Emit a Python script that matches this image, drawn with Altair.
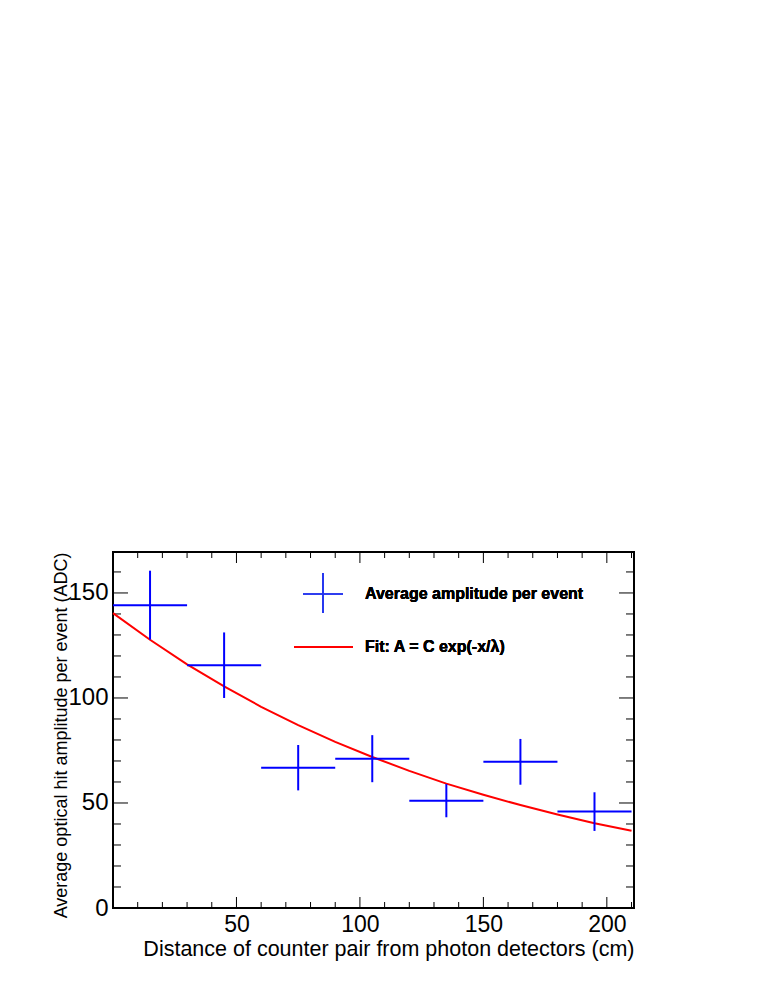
import altair as alt
import pandas as pd

# ---- data ----
bin_lo = [0, 30, 60, 90, 120, 150, 180]
bin_hi = [30, 60, 90, 120, 150, 180, 210]
bin_center = [15, 45, 75, 105, 135, 165, 195]
amp = [144.2, 115.6, 66.8, 71.1, 51.1, 69.6, 45.9]
amp_err = [16.4, 15.6, 10.8, 11.2, 7.9, 10.9, 9.2]

fit_x = [0, 15, 30, 45, 60, 75, 90, 105, 120, 135, 150, 165, 180, 195, 210]
fit_y = [140.4, 127.7, 116.0, 105.5, 95.8, 87.1, 79.1, 71.9, 65.3, 59.2, 53.9, 49.0, 44.5, 40.4, 36.8]

x_major = [50, 100, 150, 200]
x_minor = [10, 20, 30, 40, 60, 70, 80, 90, 110, 120, 130, 140, 160, 170, 180, 190, 210]
y_major = [0, 50, 100, 150]
y_minor = [10, 20, 30, 40, 60, 70, 80, 90, 110, 120, 130, 140, 160]

legend_labels = ["Average amplitude per event", "Fit: A = C exp(-x/\u03bb)"]

# ---- layout constants ----
W, H = 521, 356
FONT = "Liberation Sans"
BLUE = "#0000ff"
RED = "#ff0000"

pts = pd.DataFrame({
    "lo": bin_lo, "hi": bin_hi, "c": bin_center, "y": amp,
    "ylo": [a - e for a, e in zip(amp, amp_err)],
    "yhi": [a + e for a, e in zip(amp, amp_err)],
})
fit = pd.DataFrame({"fx": fit_x, "fy": fit_y})
xmaj = pd.DataFrame({"t": x_major})
xmin = pd.DataFrame({"t": x_minor})
ymaj = pd.DataFrame({"t": y_major})
ymin = pd.DataFrame({"t": y_minor})

xs = alt.Scale(domain=[0, 211], nice=False, zero=False)
ys = alt.Scale(domain=[0, 169.5], nice=False, zero=False)

xaxis = alt.Axis(
    values=x_major, ticks=False, domain=False, grid=False,
    labelFont=FONT, labelFontSize=23, labelColor="black",
    labelBaseline="alphabetic", labelPadding=23,
    title="Distance of counter pair from photon detectors (cm)",
    titleFont=FONT, titleFontSize=21.5, titleFontWeight="normal", titleColor="black",
    titleX=W, titleY=47, titleAlign="right", titleBaseline="alphabetic",
)
yaxis = alt.Axis(
    values=y_major, ticks=False, domain=False, grid=False,
    labelFont=FONT, labelFontSize=24, labelColor="black",
    labelPadding=5,
    title="Average optical hit amplitude per event (ADC)",
    titleFont=FONT, titleFontSize=18, titleFontWeight="normal", titleColor="black",
    titleX=-47, titleY=0, titleAngle=270, titleAlign="right", titleBaseline="alphabetic",
)


def X(f):
    return alt.X(f, type="quantitative", scale=xs, axis=xaxis)


def Y(f):
    return alt.Y(f, type="quantitative", scale=ys, axis=yaxis)


hbars = alt.Chart(pts).mark_rule(color=BLUE, strokeWidth=2).encode(
    x=X("lo"), x2="hi", y=Y("y"))
vbars = alt.Chart(pts).mark_rule(color=BLUE, strokeWidth=2).encode(
    x=X("c"), y=Y("ylo"), y2="yhi")
fitline = alt.Chart(fit).mark_line(color=RED, strokeWidth=2).encode(
    x=X("fx"), y=Y("fy"))

tick_style = dict(color="black", strokeWidth=1)
ticks = [
    alt.Chart(xmaj).mark_rule(**tick_style).encode(x=X("t"), y=alt.value(H), y2=alt.value(H - 11)),
    alt.Chart(xmaj).mark_rule(**tick_style).encode(x=X("t"), y=alt.value(0), y2=alt.value(11)),
    alt.Chart(xmin).mark_rule(**tick_style).encode(x=X("t"), y=alt.value(H), y2=alt.value(H - 6)),
    alt.Chart(xmin).mark_rule(**tick_style).encode(x=X("t"), y=alt.value(0), y2=alt.value(6)),
    alt.Chart(ymaj).mark_rule(**tick_style).encode(y=Y("t"), x=alt.value(0), x2=alt.value(15)),
    alt.Chart(ymaj).mark_rule(**tick_style).encode(y=Y("t"), x=alt.value(W), x2=alt.value(W - 15)),
    alt.Chart(ymin).mark_rule(**tick_style).encode(y=Y("t"), x=alt.value(0), x2=alt.value(8)),
    alt.Chart(ymin).mark_rule(**tick_style).encode(y=Y("t"), x=alt.value(W), x2=alt.value(W - 8)),
]

# legend (fixed pixel positions inside plot area)
leg_h = alt.Chart(xmaj).mark_rule(color="#2233ee", strokeWidth=1.2).encode(
    x=alt.value(190), x2=alt.value(230), y=alt.value(42))
leg_v = alt.Chart(xmaj).mark_rule(color="#2233ee", strokeWidth=1.2).encode(
    x=alt.value(210), y=alt.value(21), y2=alt.value(61))
leg_r = alt.Chart(xmaj).mark_rule(color=RED, strokeWidth=2).encode(
    x=alt.value(181), x2=alt.value(240), y=alt.value(95))
leg_t1 = alt.Chart(xmaj).mark_text(
    font=FONT, fontSize=16, fontWeight="bold", align="left", baseline="middle", color="black"
).encode(x=alt.value(252), y=alt.value(42), text=alt.value(legend_labels[0]))
leg_t2 = alt.Chart(xmaj).mark_text(
    font=FONT, fontSize=16, fontWeight="bold", align="left", baseline="middle", color="black"
).encode(x=alt.value(252), y=alt.value(95), text=alt.value(legend_labels[1]))

chart = alt.layer(
    *ticks, fitline, hbars, vbars, leg_h, leg_v, leg_r, leg_t1, leg_t2
).properties(
    width=W, height=H,
    autosize=alt.AutoSizeParams(type="none"),
    padding={"left": 105, "top": 544, "right": 100, "bottom": 60},
    background="white",
).configure_view(stroke="black", strokeWidth=2)

chart.save("out.html", embed_options={"renderer": "svg", "actions": False})
